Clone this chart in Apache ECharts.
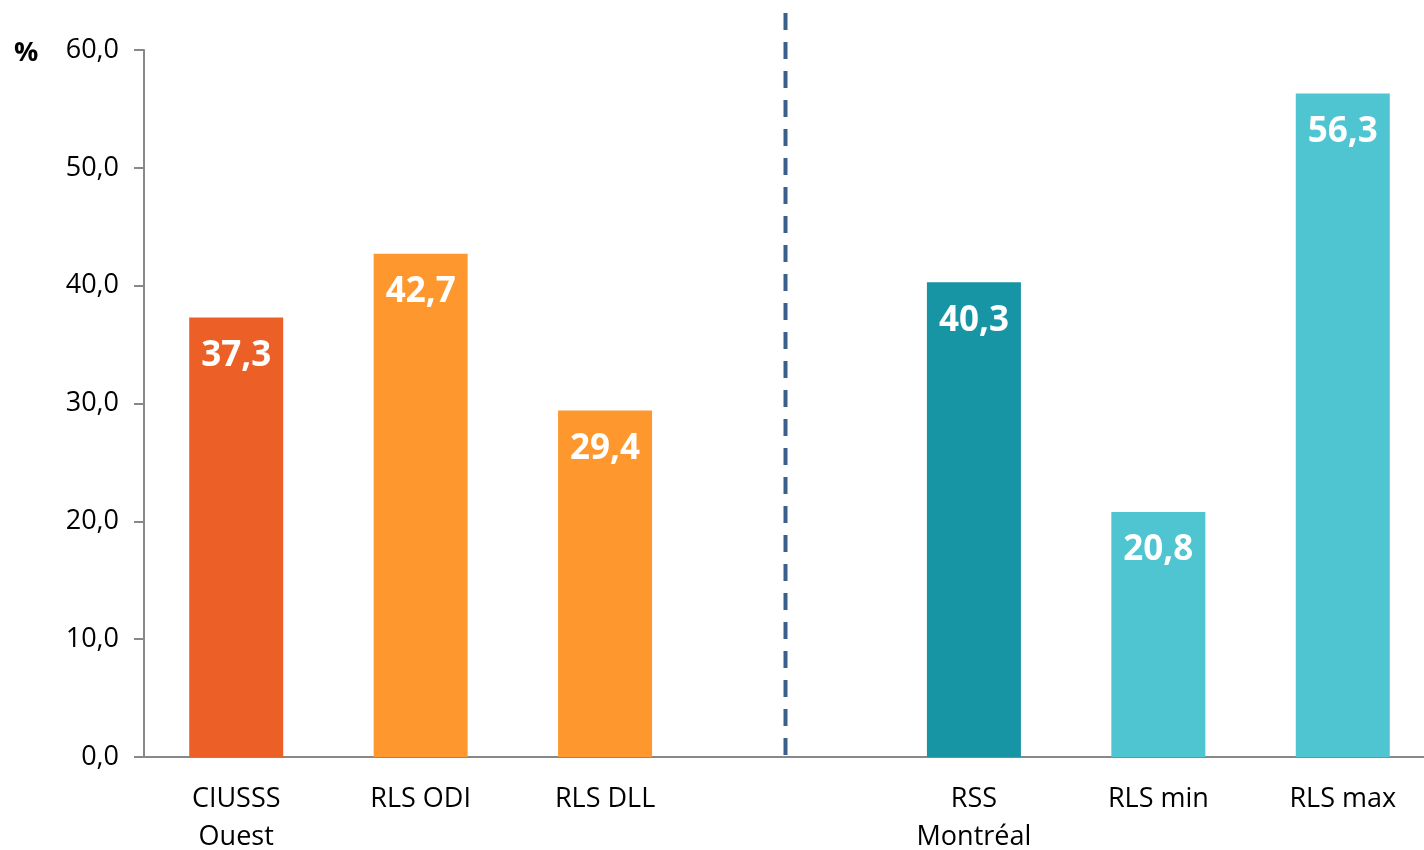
<!DOCTYPE html>
<html><head><meta charset="utf-8">
<script src="https://cdn.jsdelivr.net/npm/echarts@6/dist/echarts.min.js"></script>
<style>html,body{margin:0;padding:0;background:#fff}#c{width:1424px;height:850px}</style>
</head><body><div id="c"></div>
<script>
const categories = ['CIUSSS\nOuest', 'RLS ODI', 'RLS DLL', '', 'RSS\nMontréal', 'RLS min', 'RLS max'];
const values = [37.3, 42.7, 29.4, null, 40.3, 20.8, 56.3];
const barColors = ['#EC6027', '#FE972E', '#FE972E', '#FE972E', '#1795A5', '#4FC5D1', '#4FC5D1'];
const yTicks = [0, 10, 20, 30, 40, 50, 60];
const dividerIndex = 3;

const FONT = '"Open Sans", "Noto Sans", sans-serif';
const chart = echarts.init(document.getElementById('c'));
const fmt = v => v.toFixed(1).replace('.', ',');
const pctText = { type: 'text', left: 14, top: 40, style: { text: '%', font: 'bold 27px ' + FONT, fill: '#000' } };
chart.setOption({
  animation: false,
  grid: { left: 144, right: -11, top: 50, bottom: 93, containLabel: false, outerBoundsMode: 'none' },
  graphic: [pctText],
  xAxis: {
    type: 'category', data: categories,
    axisLine: { lineStyle: { color: '#888', width: 2 } },
    axisTick: { length: 10, lineStyle: { color: '#888', width: 2 } },
    axisLabel: { color: '#000', fontSize: 27, fontFamily: FONT, margin: 23, lineHeight: 38 }
  },
  yAxis: {
    type: 'value', min: 0, max: 60, interval: 10,
    axisLine: { show: true, lineStyle: { color: '#888', width: 2 } },
    axisTick: { show: true, length: 10, lineStyle: { color: '#888', width: 2 } },
    splitLine: { show: false },
    axisLabel: { color: '#000', fontSize: 27, fontFamily: FONT, margin: 25, formatter: v => fmt(v) }
  },
  series: [{
    type: 'bar', barWidth: 94,
    data: values.map((v, i) => ({ value: v, itemStyle: { color: barColors[i] } })),
    label: {
      show: true, position: 'insideTop', distance: 21,
      color: '#fff', fontSize: 35, fontWeight: 'bold', fontFamily: FONT,
      formatter: p => p.value == null ? '' : fmt(p.value)
    }
  }]
});
const x = chart.convertToPixel({ xAxisIndex: 0 }, dividerIndex) - 4;
const y0 = chart.convertToPixel({ yAxisIndex: 0 }, 0);
chart.setOption({
  graphic: [
    pctText,
    { type: 'line', shape: { x1: x, y1: 13, x2: x, y2: y0 }, style: { stroke: '#3A5F8C', lineWidth: 4, lineDash: [17, 12] }, z: 10 }
  ]
});
</script></body></html>
